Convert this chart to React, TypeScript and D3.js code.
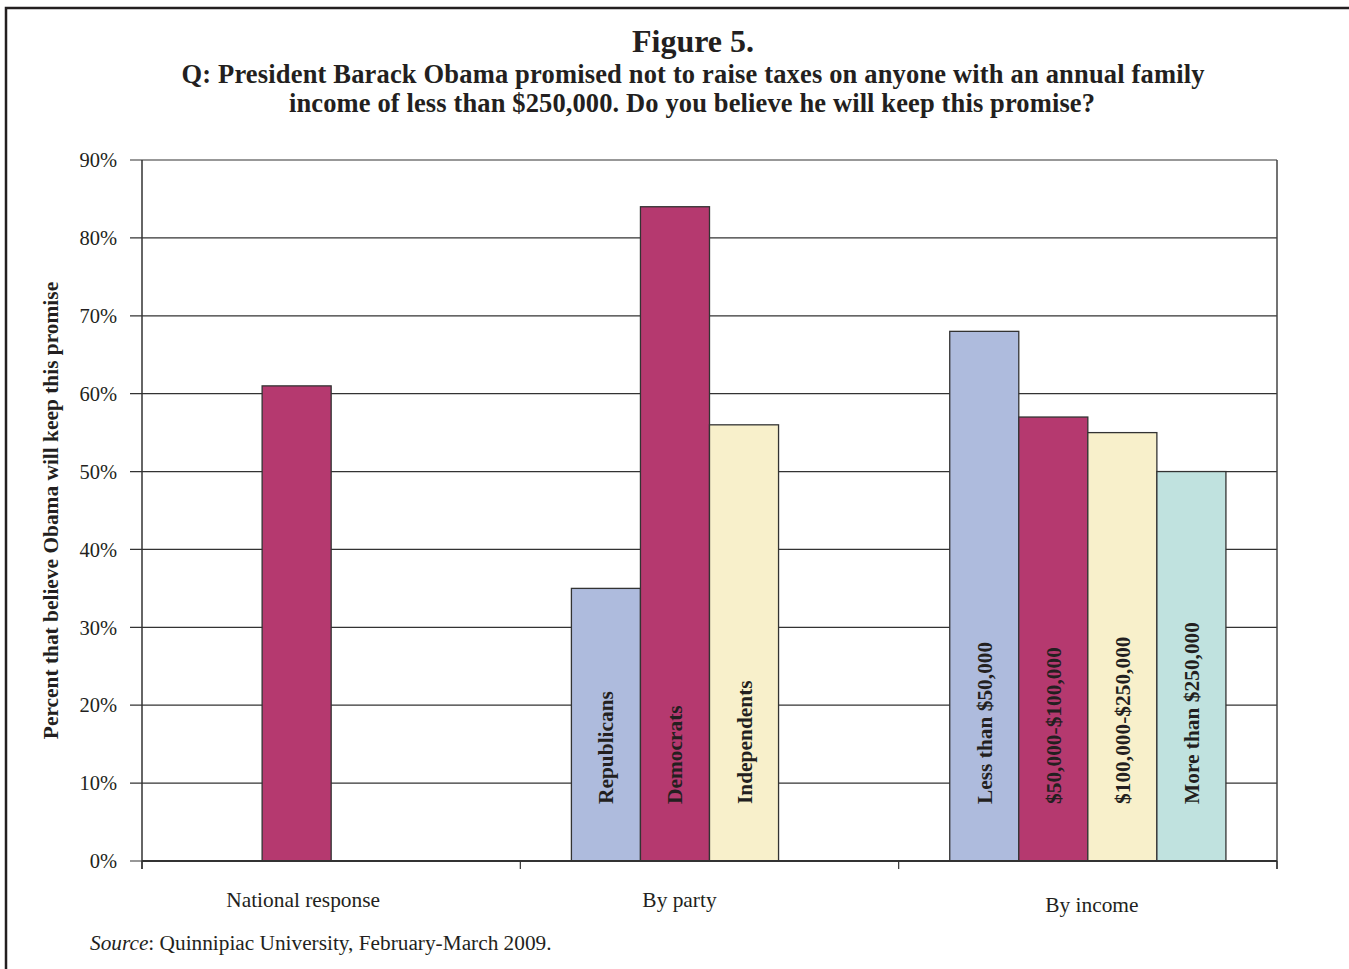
import React from "react";
import * as d3 from "d3";

// Survey categories and values (percent answering "yes")
const groupNames = ["National response", "By party", "By income"];
const nationalLabels = [""];
const nationalValues = [61];
const partyLabels = ["Republicans", "Democrats", "Independents"];
const partyValues = [35, 84, 56];
const incomeLabels = ["Less than $50,000", "$50,000-$100,000", "$100,000-$250,000", "More than $250,000"];
const incomeValues = [68, 57, 55, 50];
// series slot each bar sits in inside its group
const nationalSlots = [1];
const partySlots = [0, 1, 2];
const incomeSlots = [0, 1, 2, 3];
const yTicks = [0, 10, 20, 30, 40, 50, 60, 70, 80, 90];
const seriesColors = ["#AEBBDD", "#B5396F", "#F8F0CB", "#C0E2DF"];

const groupLabelDx = [-28, -30, 4];
const groupLabelDy = [0, 0, 5];

const W = 1349;
const H = 969;
const M = { left: 142, right: 1277, top: 160, bottom: 861 };
const FONT = "'Liberation Serif', 'Times New Roman', serif";
const INK = "#231F20";

export default function App() {
  const x = d3
    .scaleBand<string>()
    .domain(groupNames)
    .range([M.left, M.right])
    .paddingInner(0.27)
    .paddingOuter(0.135);
  const slot = d3
    .scaleBand<number>()
    .domain([0, 1, 2, 3])
    .range([0, x.bandwidth()]);
  const y = d3.scaleLinear().domain([0, 90]).range([M.bottom, M.top]);

  const groups = [
    { name: groupNames[0], labels: nationalLabels, values: nationalValues, slots: nationalSlots },
    { name: groupNames[1], labels: partyLabels, values: partyValues, slots: partySlots },
    { name: groupNames[2], labels: incomeLabels, values: incomeValues, slots: incomeSlots },
  ];

  const step = x.step();
  const boundaries = [0, 1, 2, 3].map((i) => M.left + i * step);

  return (
    <svg
      width={W}
      height={H}
      viewBox={`0 0 ${W} ${H}`}
      style={{ position: "absolute", left: 0, top: 0, background: "#fff" }}
      fontFamily={FONT}
    >
      <rect x={0} y={0} width={W} height={H} fill="#fff" />
      {/* outer frame */}
      <rect x={6} y={8} width={W + 20} height={H + 20} fill="none" stroke={INK} strokeWidth={2.5} />

      {/* titles */}
      <text x={693} y={52} textAnchor="middle" fontWeight="bold" fontSize={32} fill={INK}>
        Figure 5.
      </text>
      <text
        x={693}
        y={83}
        textAnchor="middle"
        fontWeight="bold"
        fontSize={26.5}
        textLength={1023}
        lengthAdjust="spacing"
        fill={INK}
      >
        Q: President Barack Obama promised not to raise taxes on anyone with an annual family
      </text>
      <text
        x={692}
        y={112}
        textAnchor="middle"
        fontWeight="bold"
        fontSize={26.5}
        textLength={806}
        lengthAdjust="spacing"
        fill={INK}
      >
        income of less than $250,000. Do you believe he will keep this promise?
      </text>

      {/* gridlines and y ticks */}
      {yTicks.map((t) => (
        <g key={t}>
          <line x1={M.left - 12} x2={M.right} y1={y(t)} y2={y(t)} stroke="#333" strokeWidth={1.2} />
          <text x={117} y={y(t)} dy="0.35em" textAnchor="end" fontSize={20.5} fill={INK}>
            {t}%
          </text>
        </g>
      ))}
      {/* plot frame */}
      <line x1={M.left} x2={M.left} y1={M.top} y2={M.bottom + 8} stroke="#333" strokeWidth={1.5} />
      <line x1={M.right} x2={M.right} y1={M.top} y2={M.bottom + 8} stroke="#444" strokeWidth={1.5} />

      {/* bars */}
      {groups.map((g) => (
        <g key={g.name}>
          {g.values.map((v, i) => {
            const bx = (x(g.name) as number) + (slot(g.slots[i]) as number);
            const bw = slot.bandwidth();
            return (
              <g key={i}>
                <rect
                  x={bx}
                  y={y(v)}
                  width={bw}
                  height={y(0) - y(v)}
                  fill={seriesColors[g.slots[i]]}
                  stroke="#333"
                  strokeWidth={1.3}
                />
                {g.labels[i] && (
                  <text
                    transform={`translate(${bx + bw / 2},${y(0) - 57}) rotate(-90)`}
                    dy="0.35em"
                    textAnchor="start"
                    fontWeight="bold"
                    fontSize={21.4}
                    fill={INK}
                  >
                    {g.labels[i]}
                  </text>
                )}
              </g>
            );
          })}
        </g>
      ))}

      {/* x axis */}
      <line x1={M.left} x2={M.right} y1={M.bottom} y2={M.bottom} stroke="#333" strokeWidth={2} />
      {boundaries.map((bx, i) => (
        <line key={i} x1={bx} x2={bx} y1={M.bottom} y2={M.bottom + 8} stroke="#333" strokeWidth={1.2} />
      ))}
      {groupNames.map((n, i) => (
        <text
          key={n}
          x={(x(n) as number) + x.bandwidth() / 2 + groupLabelDx[i]}
          y={907 + groupLabelDy[i]}
          textAnchor="middle"
          fontSize={21.4}
          fill={INK}
        >
          {n}
        </text>
      ))}

      {/* y axis title */}
      <text
        transform={`translate(50,${(M.top + M.bottom) / 2}) rotate(-90)`}
        dy="0.35em"
        textAnchor="middle"
        fontWeight="bold"
        fontSize={21.4}
        fill={INK}
      >
        Percent that believe Obama will keep this promise
      </text>

      {/* source note */}
      <text x={90} y={950} fontSize={21.3} fill={INK}>
        <tspan fontStyle="italic">Source</tspan>: Quinnipiac University, February-March 2009.
      </text>
    </svg>
  );
}
